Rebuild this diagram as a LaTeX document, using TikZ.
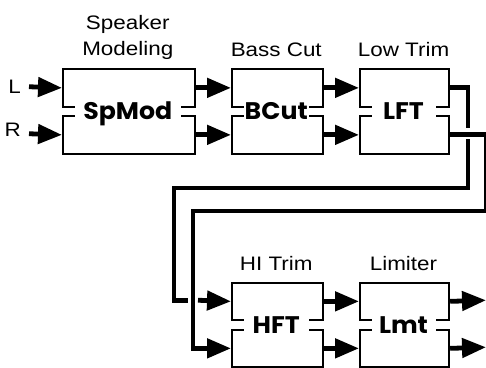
\documentclass[tikz,border=0pt]{standalone}
\usepackage{fontspec}
\setmainfont{Liberation Sans}[FakeStretch=1.15]
\newfontfamily\labfont{Poppins}[FakeStretch=1.05]
\usetikzlibrary{arrows.meta}
\begin{document}
\begin{tikzpicture}[x=1pt,y=-1pt,
  box/.style={draw, line width=2.2pt, rectangle, inner sep=0pt, anchor=north west, minimum height=37.5pt},
  blab/.style={fill=white, inner xsep=0pt, inner ysep=2pt, anchor=base, font=\labfont\bfseries\fontsize{24}{26}\selectfont},
  ttl/.style={inner sep=0pt, font=\fontsize{19.5}{26.4}\selectfont, align=center},
  sig/.style={line width=4.8pt, line join=miter},
  arr/.style={sig, -{Triangle[length=24pt 0 0,width=19pt 0 0]}}]
\useasboundingbox (0,0) rectangle (486,367);
% blocks row 1
\node[box, minimum width=131.5pt] (spT) at (62,68) {};
\node[box, minimum width=131.5pt] (spB) at (62,115) {};
\node[box, minimum width=90.5pt] (bcT) at (231,68) {};
\node[box, minimum width=90.5pt] (bcB) at (231,115) {};
\node[box, minimum width=89pt] (lfT) at (359,68) {};
\node[box, minimum width=89pt] (lfB) at (359,115) {};
% blocks row 2
\node[box, minimum width=90.5pt] (hfT) at (231,281.5) {};
\node[box, minimum width=90.5pt] (hfB) at (231,328.5) {};
\node[box, minimum width=89pt] (lmT) at (359,281.5) {};
\node[box, minimum width=89pt] (lmB) at (359,328.5) {};
% block labels
\node[blab, minimum width=106.5pt] (spL) at (127.75,119.5) {SpMod};
\node[blab, minimum width=65.5pt] (bcL) at (276.25,119.5) {BCut};
\node[blab, minimum width=64pt] (lfL) at (403.5,119.5) {LFT};
\node[blab, minimum width=65.5pt] (hfL) at (276.25,333) {HFT};
\node[blab, minimum width=64pt] (lmL) at (403.5,333) {Lmt};
% titles
\node[ttl, anchor=south] (spTitle) at (127.75,60) {Speaker\\Modeling};
\node[ttl, anchor=base] (bcTitle) at (276.25,56) {Bass Cut};
\node[ttl, anchor=base] (lfTitle) at (403.5,56) {Low Trim};
\node[ttl, anchor=base] (hfTitle) at (276.25,270.5) {HI Trim};
\node[ttl, anchor=base] (lmTitle) at (403.5,270.5) {Limiter};
% inputs
\node[ttl, anchor=base east] (Lin) at (21,93.5) {L};
\node[ttl, anchor=base east] (Rin) at (21,136.5) {R};
\coordinate (inL) at (29,86.75);
\coordinate (inR) at (29,133.75);
\draw[arr] (inL) -- (spT.west);
\draw[arr] (inR) -- (spB.west);
% chain
\draw[arr] (spT.east) -- (bcT.west);
\draw[arr] (spB.east) -- (bcB.west);
\draw[arr] (bcT.east) -- (lfT.west);
\draw[arr] (bcB.east) -- (lfB.west);
% route 1
\coordinate (r1a) at (468,128);
\coordinate (r1b) at (468,139);
\coordinate (r1c) at (174,188);
\coordinate (r1e) at (187.5,300.25);
\coordinate (r1f) at (198,300.25);
\draw[sig] (lfT.east) -| (r1a);
\draw[sig] (r1b) |- (r1c) |- (r1e);
\draw[arr] (r1f) -- (hfT.west);
% route 2
\coordinate (r2a) at (486.5,211);
\coordinate (r2b) at (193,211);
\draw[arr] (lfB.east) -| (r2a) -- (r2b) |- (hfB.west);
% row 2 chain
\draw[arr] (hfT.east) -- (lmT.west);
\draw[arr] (hfB.east) -- (lmB.west);
\coordinate (outT) at (486,300.25);
\coordinate (outB) at (486,347.25);
\draw[arr] (lmT.east) -- (outT);
\draw[arr] (lmB.east) -- (outB);
\end{tikzpicture}
\end{document}
